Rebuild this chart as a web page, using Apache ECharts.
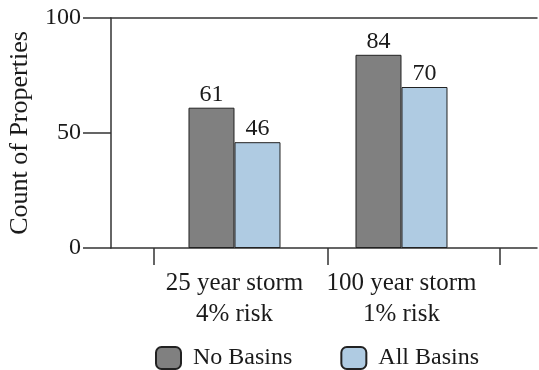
<!DOCTYPE html>
<html>
<head>
<meta charset="utf-8">
<script src="https://cdn.jsdelivr.net/npm/echarts@6/dist/echarts.min.js"></script>
<style>
  html, body { margin: 0; padding: 0; background: #fff; }
  #chart { width: 539px; height: 370px; }
</style>
</head>
<body>
<div id="chart"></div>
<script>
// categories sit at x = 1, 2 on a value axis so the frame can run past them
var categories = ["25 year storm\n4% risk", "100 year storm\n1% risk"];
var categoryPos = [1, 2];
var noBasins = [61, 84];
var allBasins = [46, 70];
var yTicks = [0, 50, 100];
var xTickPos = [0.518, 1.56, 2.59];

var font = "Liberation Serif";
var ink = "#1a1a1a";
var myChart = echarts.init(document.getElementById("chart"));

function pairs(vals) {
    return vals.map(function (v, i) { return [categoryPos[i], v]; });
}

var option = {
    animation: false,
    textStyle: { fontFamily: font },
    grid: { left: 111, right: 2, top: 18, bottom: 122, outerBoundsMode: "none", containLabel: false },
    legend: {
        left: 150,
        top: 341,
        itemWidth: 25,
        itemHeight: 22,
        itemGap: 48,
        icon: "roundRect",
        data: ["No Basins", "All Basins"],
        textStyle: { fontFamily: font, fontSize: 24, color: ink, padding: [0, 0, 0, 7] }
    },
    xAxis: [
        {
            type: "value",
            min: 0.2605,
            max: 2.8114,
            splitLine: { show: false },
            axisLine: { onZero: false, lineStyle: { color: "#333", width: 1.5 } },
            axisTick: {
                show: true,
                length: 17,
                customValues: xTickPos,
                lineStyle: { color: "#333", width: 1.5 }
            },
            axisLabel: {
                customValues: categoryPos,
                fontFamily: font,
                fontSize: 25,
                lineHeight: 31,
                color: ink,
                margin: 20,
                formatter: function (v) {
                    var i = categoryPos.indexOf(Math.round(v));
                    return i >= 0 ? categories[i] : "";
                }
            }
        },
        {
            // top border of the plot
            type: "value",
            position: "top",
            min: 0.2605,
            max: 2.8114,
            splitLine: { show: false },
            axisLine: { show: true, onZero: false, lineStyle: { color: "#333", width: 1.5 } },
            axisTick: { show: false },
            axisLabel: { show: false }
        }
    ],
    yAxis: {
        type: "value",
        position: "left",
        min: 0,
        max: 100,
        interval: 50,
        name: "Count of Properties",
        nameLocation: "middle",
        nameGap: 78,
        nameTextStyle: { fontFamily: font, fontSize: 26, color: ink },
        splitLine: { show: false },
        axisLine: { show: true, onZero: false, lineStyle: { color: "#333", width: 1.5 } },
        axisTick: {
            show: true,
            inside: false,
            length: 28,
            lineStyle: { color: "#333", width: 1.5 }
        },
        axisLabel: {
            fontFamily: font,
            fontSize: 24,
            color: ink,
            margin: 30
        }
    },
    series: [
        {
            name: "No Basins",
            type: "bar",
            barWidth: 46,
            barGap: "0%",
            data: pairs(noBasins),
            itemStyle: { color: "#808080", borderColor: "#222", borderWidth: 1 },
            label: { show: true, position: "top", distance: 1, fontFamily: font, fontSize: 24, color: ink }
        },
        {
            name: "All Basins",
            type: "bar",
            barWidth: 46,
            barGap: "0%",
            data: pairs(allBasins),
            itemStyle: { color: "#afcbe2", borderColor: "#222", borderWidth: 1 },
            label: { show: true, position: "top", distance: 1, fontFamily: font, fontSize: 24, color: ink }
        }
    ]
};
myChart.setOption(option);
</script>
</body>
</html>
